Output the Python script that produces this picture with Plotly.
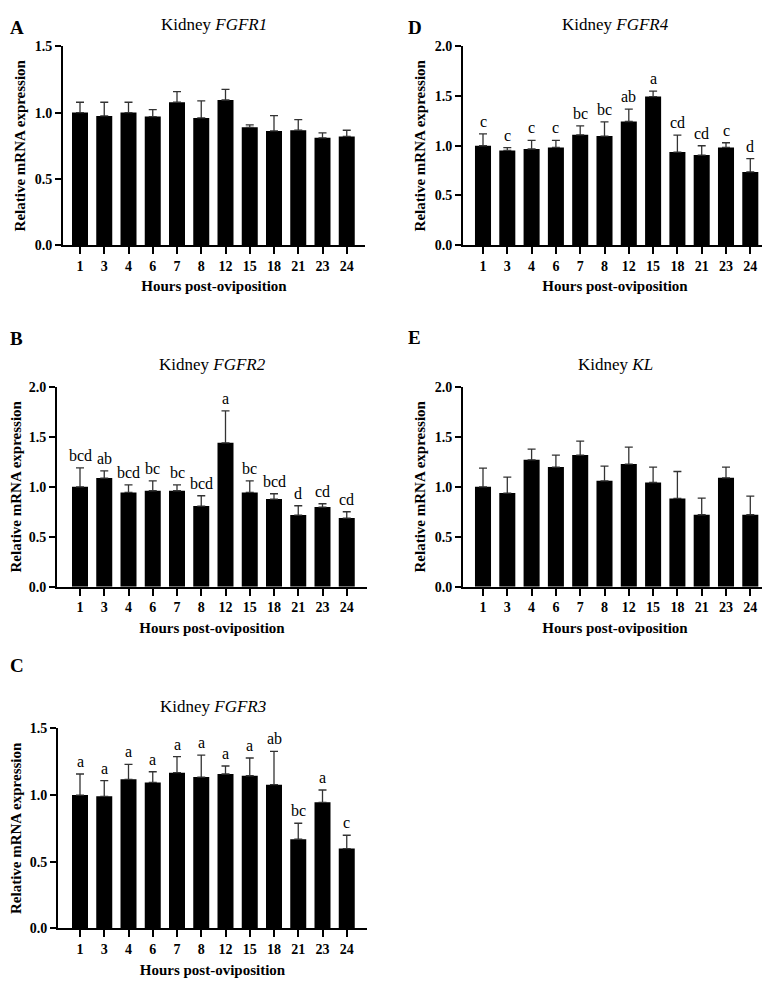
import plotly.graph_objects as go

hours = ["1", "3", "4", "6", "7", "8", "12", "15", "18", "21", "23", "24"]

fgfr1_mean = [1.00, 0.975, 1.00, 0.97, 1.078, 0.96, 1.095, 0.889, 0.862, 0.867, 0.81, 0.82]
fgfr1_top = [1.078, 1.078, 1.078, 1.023, 1.158, 1.088, 1.176, 0.907, 0.977, 0.947, 0.847, 0.867]

fgfr2_mean = [1.00, 1.087, 0.943, 0.96, 0.96, 0.807, 1.44, 0.943, 0.877, 0.717, 0.797, 0.687]
fgfr2_top = [1.19, 1.16, 1.02, 1.06, 1.02, 0.91, 1.76, 1.06, 0.93, 0.81, 0.83, 0.75]
fgfr2_letters = ["bcd", "ab", "bcd", "bc", "bc", "bcd", "a", "bc", "bcd", "d", "cd", "cd"]

fgfr3_mean = [1.00, 0.99, 1.118, 1.095, 1.168, 1.135, 1.158, 1.145, 1.078, 0.668, 0.945, 0.598]
fgfr3_top = [1.158, 1.108, 1.23, 1.175, 1.288, 1.30, 1.218, 1.278, 1.328, 0.788, 1.038, 0.698]
fgfr3_letters = ["a", "a", "a", "a", "a", "a", "a", "a", "ab", "bc", "a", "c"]

fgfr4_mean = [1.00, 0.953, 0.967, 0.983, 1.11, 1.097, 1.244, 1.495, 0.936, 0.906, 0.983, 0.736]
fgfr4_top = [1.12, 0.98, 1.053, 1.053, 1.20, 1.24, 1.368, 1.55, 1.107, 1.00, 1.03, 0.87]
fgfr4_letters = ["c", "c", "c", "c", "bc", "bc", "ab", "a", "cd", "cd", "c", "d"]

kl_mean = [1.00, 0.937, 1.27, 1.197, 1.317, 1.06, 1.227, 1.043, 0.883, 0.72, 1.09, 0.72]
kl_top = [1.187, 1.097, 1.377, 1.317, 1.457, 1.207, 1.397, 1.197, 1.153, 0.887, 1.197, 0.907]

# the page places the figure a little in from the top-left corner; lay out in
# screen pixels and convert
OFFX, OFFY, SY = 8, 13.6, 0.986
W, H = 762, 981
SERIF = "Liberation Serif, Times New Roman, serif"


def px(x):
    return (x - OFFX) / W


def py(y):
    return 1 - ((y - OFFY) / SY) / H


panels = [
    # letter, gene, mean, top, letters, ymax, (x0,x1,y0,y1) screen px, first center px, spacing px
    ("A", "FGFR1", fgfr1_mean, fgfr1_top, None, 1.5, (63, 365, 45, 244), 80, 24.25),
    ("B", "FGFR2", fgfr2_mean, fgfr2_top, fgfr2_letters, 2.0, (57, 367, 386, 586), 80, 24.25),
    ("C", "FGFR3", fgfr3_mean, fgfr3_top, fgfr3_letters, 1.5, (58, 367, 728, 928), 80, 24.25),
    ("D", "FGFR4", fgfr4_mean, fgfr4_top, fgfr4_letters, 2.0, (463, 767, 45, 244), 483, 24.3),
    ("E", "KL", kl_mean, kl_top, None, 2.0, (463, 767, 386, 586), 483, 24.3),
]

fig = go.Figure()
annotations = []
layout = {}

for i, (lab, gene, mean, top, letters, ymax, box, c0, sp) in enumerate(panels):
    n = i + 1
    xa = "x" if n == 1 else f"x{n}"
    ya = "y" if n == 1 else f"y{n}"
    x0, x1, y0, y1 = box
    err = [t - m for t, m in zip(top, mean)]
    fig.add_trace(go.Bar(
        x=hours, y=mean, xaxis=xa, yaxis=ya,
        width=0.66, marker=dict(color="black", line=dict(width=0)),
        error_y=dict(type="data", symmetric=False, array=err,
                     arrayminus=[0] * len(err), color="#333333",
                     thickness=1.3, width=4),
        showlegend=False, hoverinfo="x+y",
    ))
    xkey = "xaxis" if n == 1 else f"xaxis{n}"
    ykey = "yaxis" if n == 1 else f"yaxis{n}"
    layout[xkey] = dict(
        domain=[px(x0), px(x1)], anchor=ya, type="category",
        range=[(x0 - c0) / sp, (x1 - c0) / sp],
        showline=True, linecolor="black", linewidth=2,
        ticks="outside", ticklen=7, tickwidth=2, tickcolor="black",
        showgrid=False, zeroline=False,
        tickfont=dict(family=SERIF, size=14, color="black", weight="bold"),
        title=dict(text="<b>Hours post-oviposition</b>", standoff=8,
                   font=dict(family=SERIF, size=15, color="black")),
        fixedrange=True,
    )
    layout[ykey] = dict(
        domain=[py(y1), py(y0)], anchor=xa,
        range=[0, ymax], dtick=0.5, tickformat=".1f",
        showline=True, linecolor="black", linewidth=2,
        ticks="outside", ticklen=6, tickwidth=2, tickcolor="black",
        showgrid=False, zeroline=False,
        tickfont=dict(family=SERIF, size=14, color="black", weight="bold"),
        title=dict(text="<b>Relative mRNA expression</b>", standoff=5,
                   font=dict(family=SERIF, size=15, color="black")),
        fixedrange=True,
    )
    # panel title
    annotations.append(dict(
        text=f"Kidney <i>{gene}</i>", xref="paper", yref="paper",
        x=px((x0 + x1) / 2), y=py(y0 - 22),
        xanchor="center", yanchor="middle", showarrow=False,
        font=dict(family=SERIF, size=17, color="black"),
    ))
    # panel letter
    lx = 8 if lab in "ABC" else 406
    if lab in "AD":
        ly_paper, yanc = 1.0, "top"
    else:
        ly_paper, yanc = py({"B": 338, "C": 665, "E": 337}[lab]), "middle"
    annotations.append(dict(
        text=f"<b>{lab}</b>", xref="paper", yref="paper",
        x=px(lx), y=ly_paper, xanchor="left", yanchor=yanc,
        showarrow=False, font=dict(family=SERIF, size=19, color="black"),
    ))
    if letters:
        for j, (t, l) in enumerate(zip(top, letters)):
            annotations.append(dict(
                text=l, xref=xa, yref=ya, x=j, y=t,
                xanchor="center", yanchor="bottom", yshift=2,
                showarrow=False, font=dict(family=SERIF, size=16, color="black"),
            ))

fig.update_layout(
    width=W, height=H,
    margin=dict(l=0, r=0, t=0, b=0),
    paper_bgcolor="white", plot_bgcolor="white",
    annotations=annotations, bargap=0.3,
    **layout,
)

fig.write_html("out.html")
